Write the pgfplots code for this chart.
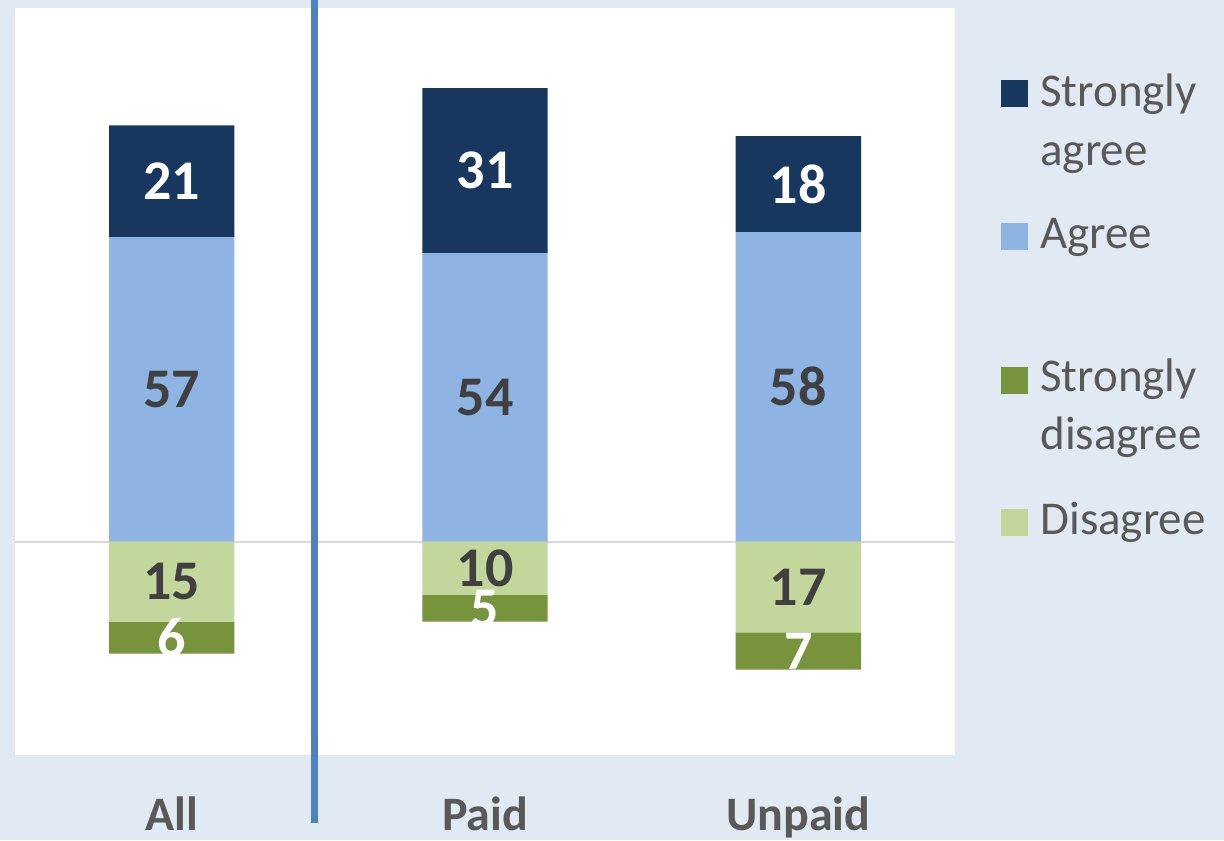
\documentclass[border=0pt]{standalone}
\usepackage{pgfplots}
\pgfplotsset{compat=1.18}
\usepackage{fontspec}
\setmainfont{Carlito}
\definecolor{bgblue}{HTML}{E1E9F3}
\definecolor{cSA}{HTML}{17375E}
\definecolor{cA}{HTML}{8EB4E3}
\definecolor{cD}{HTML}{C3D69B}
\definecolor{cSD}{HTML}{77933C}
\definecolor{divider}{HTML}{4F81BD}
\definecolor{zeroline}{HTML}{D9D9D9}
\definecolor{txtgray}{HTML}{595959}
\definecolor{lblgray}{HTML}{404040}

\pgfplotsset{
  frame/.style={
    at={(7.5pt,42.5pt)}, anchor=south west,
    scale only axis, width=470pt, height=373.5pt,
    xmin=-0.5, xmax=2.5, ymin=-40, ymax=100,
  },
  lbl/.style={
    draw=none, mark=none, nodes near coords,
    point meta=explicit symbolic,
    every node near coord/.style={anchor=center, inner sep=0pt,
      font=\fontsize{28}{32}\selectfont\bfseries, text=#1},
  },
}

\begin{document}
\begin{tikzpicture}
\useasboundingbox (0,0) rectangle (612pt,420pt);
\fill[bgblue] (0,0) rectangle (612pt,420pt);

% positive stack: agree, strongly agree
\begin{axis}[
    frame,
    ybar stacked,
    bar width=0.4,
    axis background/.style={fill=white},
    axis line style={draw=none},
    major tick length=0pt,
    xtick={0,1,2},
    xticklabels={All,Paid,Unpaid},
    xticklabel style={anchor=base, yshift=-37.5pt,
      font=\fontsize{24}{28}\selectfont\bfseries, text=txtgray},
    ytick={0}, yticklabels={},
    ymajorgrids, grid style={zeroline, line width=1pt},
]
\addplot[fill=cA, draw=none] coordinates {(0,57) (1,54) (2,58)};
\addplot[fill=cSA, draw=none] coordinates {(0,21) (1,31) (2,18)};
\end{axis}

% negative stack: disagree, strongly disagree
\begin{axis}[frame, hide axis, ybar stacked, bar width=0.4]
\addplot[fill=cD, draw=none] coordinates {(0,-15) (1,-10) (2,-17)};
\addplot[fill=cSD, draw=none] coordinates {(0,-6) (1,-5) (2,-7)};
\end{axis}

% value labels and the divider
\begin{axis}[frame, hide axis, clip=false]
\addplot[lbl=white] coordinates {(0,67.5)[21] (1,69.5)[31] (2,67)[18]
  (0,-18)[6] (1,-12.5)[5] (2,-20.5)[7]};
\addplot[lbl=lblgray] coordinates {(0,28.5)[57] (1,27)[54] (2,29)[58]
  (0,-7.5)[15] (1,-5)[10] (2,-8.5)[17]};
\draw[divider, line width=3.5pt] (axis cs:0.456,-52.7) -- (axis cs:0.456,102);
\end{axis}

% legend
\begin{scope}[x=0.5pt, y=-0.5pt, yshift=420pt,
  every node/.style={anchor=base west, inner sep=0pt, text=txtgray,
    font=\fontsize{23.5}{28}\selectfont}]
\fill[cSA] (1001,80) rectangle (1028,107);
\node at (1040,107) {Strongly};
\node at (1040,166) {agree};
\fill[cA] (1001,223) rectangle (1028,250);
\node at (1040,249) {Agree};
\fill[cSD] (1001,367) rectangle (1028,394);
\node at (1040,392) {Strongly};
\node at (1040,450) {disagree};
\fill[cD] (1001,509) rectangle (1028,536);
\node at (1040,535) {Disagree};
\end{scope}
\end{tikzpicture}
\end{document}
